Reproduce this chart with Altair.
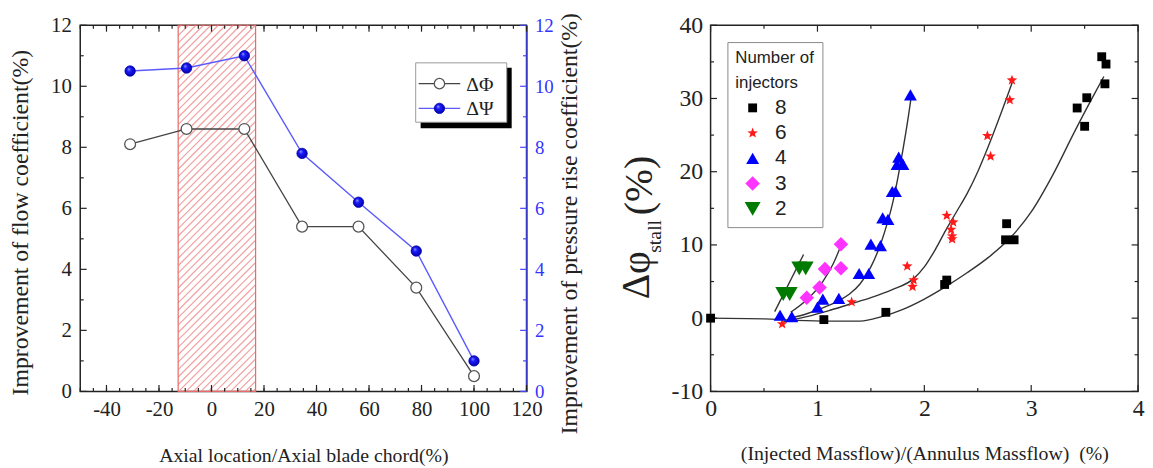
import altair as alt
import pandas as pd

# ---------------- left panel data ----------------
loc = [-31, -9.5, 12.5, 34.5, 56, 78, 100]
d_phi = [8.1, 8.6, 8.6, 5.4, 5.4, 3.4, 0.5]
d_psi = [10.5, 10.6, 11.0, 7.8, 6.2, 4.6, 1.0]
band = [-12.7, 16.8]
left_x_ticks = [-40, -20, 0, 20, 40, 60, 80, 100, 120]
left_y_ticks = [0, 2, 4, 6, 8, 10, 12]

# ---------------- right panel data ----------------
n8_x = [0.0, 1.06, 1.64, 2.19, 2.21, 2.77, 2.76, 2.84, 3.43, 3.52, 3.50, 3.66, 3.70, 3.69]
n8_y = [0.0, -0.2, 0.8, 4.6, 5.2, 12.9, 10.7, 10.7, 28.7, 30.1, 26.2, 35.7, 34.7, 32.0]
n6_x = [0.67, 1.32, 1.84, 1.90, 1.89, 2.21, 2.27, 2.25, 2.26, 2.26, 2.59, 2.62, 2.80, 2.82]
n6_y = [-0.8, 2.2, 7.1, 5.2, 4.3, 14.0, 13.1, 12.1, 11.2, 10.8, 24.9, 22.1, 29.8, 32.5]
n4_x = [0.65, 0.76, 1.00, 1.05, 1.20, 1.39, 1.48, 1.50, 1.59, 1.61, 1.66, 1.70, 1.73, 1.745, 1.76, 1.80, 1.87]
n4_y = [0.4, 0.2, 1.5, 2.6, 2.7, 6.1, 6.1, 10.1, 9.9, 13.7, 13.5, 17.3, 17.3, 21.0, 22.0, 21.0, 30.5]
n3_x = [0.90, 1.02, 1.07, 1.22, 1.22]
n3_y = [2.8, 4.2, 6.7, 10.1, 6.8]
n2_x = [0.68, 0.74, 0.83, 0.89]
n2_y = [3.3, 3.3, 6.8, 6.8]

# fitted curves
c8_x = [0, 0.5, 0.8, 1.1, 1.4, 1.6, 1.8, 2.0, 2.2, 2.4, 2.6, 2.8, 3.0, 3.2, 3.4, 3.55, 3.68]
c8_y = [0, -0.1, -0.3, -0.4, -0.4, 0.2, 1.2, 2.6, 4.3, 6.2, 8.3, 10.9, 14.5, 19.5, 25.3, 29.5, 33.0]
c6_x = [0.68, 0.9, 1.1, 1.3, 1.5, 1.7, 1.9, 2.0, 2.1, 2.2, 2.3, 2.4, 2.5, 2.6, 2.7, 2.83]
c6_y = [-0.5, 0.2, 1.0, 1.9, 2.8, 3.9, 5.4, 7.0, 9.3, 12.0, 14.5, 17.0, 20.0, 23.5, 27.3, 32.5]
c4_x = [0.75, 0.9, 1.05, 1.2, 1.3, 1.4, 1.5, 1.6, 1.65, 1.7, 1.75, 1.8, 1.85, 1.88]
c4_y = [0.0, 0.6, 1.4, 2.4, 3.3, 4.7, 7.0, 10.5, 12.8, 15.5, 19.0, 23.0, 27.5, 30.5]
c3_x = [0.75, 0.9, 1.05, 1.15, 1.23]
c3_y = [0.8, 2.5, 5.0, 7.5, 10.3]
c2_x = [0.6, 0.87]
c2_y = [0.9, 8.7]

n_order = ["8", "6", "4", "3", "2"]
right_x_ticks = [0, 1, 2, 3, 4]
right_y_ticks = [-10, 0, 10, 20, 30, 40]

# ---------------- layout / style ----------------
LW, LH = 451, 370
RW, RH = 432, 370
XL = [-50, 120]
SERIF = "Liberation Serif"
SANS = "Liberation Sans"
BLUE = "#3333ff"
STAR = ("M0,-1L0.247,-0.34L0.951,-0.309L0.4,0.13L0.588,0.809L0,0.42"
        "L-0.588,0.809L-0.4,0.13L-0.951,-0.309L-0.247,-0.34Z")
HYPHEN = "datum.value < 0 ? '-' + abs(datum.value) : datum.label"

one = pd.DataFrame({"a": [0]})

xs = alt.Scale(domain=XL, nice=False, zero=False)
ysL = alt.Scale(domain=[0, 12], nice=False, zero=False)
ysR = alt.Scale(domain=[0, 12], nice=False, zero=False)
rxs = alt.Scale(domain=[0, 4], nice=False, zero=False)
rys = alt.Scale(domain=[-10, 40], nice=False, zero=False)

AX_LX = alt.Axis(title="Axial location/Axial blade chord(%)", values=left_x_ticks, format="d",
                 labelExpr=HYPHEN,
                 labelFont=SERIF, labelFontSize=21, labelColor="#222", labelPadding=7,
                 ticks=False, domain=False, grid=False, labelFlush=False,
                 titleFont=SERIF, titleFontSize=20, titleFontWeight="normal", titleColor="#222",
                 titlePadding=27)
AX_LY = alt.Axis(title="Improvement of flow coefficient(%)", values=left_y_ticks, format="d",
                 labelFont=SERIF, labelFontSize=21, labelColor="#222", labelPadding=9,
                 ticks=False, domain=False, grid=False, labelFlush=False,
                 titleFont=SERIF, titleFontSize=24, titleFontWeight="normal", titleColor="#222",
                 titlePadding=18, titleY=199)
AX_RY = alt.Axis(orient="right", title="Improvement of pressure rise coefficient(%)",
                 values=left_y_ticks, format="d",
                 labelFont=SERIF, labelFontSize=19, labelColor=BLUE, labelPadding=8,
                 ticks=False, domain=True, domainColor="#4444ff", domainWidth=1.5, grid=False,
                 labelFlush=False,
                 titleFont=SERIF, titleFontSize=24, titleFontWeight="normal", titleColor="#222",
                 titleAngle=270, titleBaseline="top", titlePadding=4, titleY=200)
AX_X2 = alt.Axis(title="(Injected Massflow)/(Annulus Massflow)\u00a0\u00a0(%)", values=right_x_ticks,
                 format="d", labelFont=SERIF, labelFontSize=24, labelColor="#222", labelPadding=5,
                 ticks=False, domain=False, grid=False, labelFlush=False,
                 titleFont=SERIF, titleFontSize=20, titleFontWeight="normal", titleColor="#222",
                 titlePadding=24)
AX_Y2 = alt.Axis(title=None, values=right_y_ticks, format="d", labelExpr=HYPHEN,
                 labelFont=SERIF, labelFontSize=24, labelColor="#222", labelPadding=8,
                 ticks=False, domain=False, grid=False, labelFlush=False)


def frange(a, b, s):
    out, v = [], a
    while v <= b + 1e-9:
        out.append(round(v, 6))
        v += s
    return out


def xtick_rules(vals, length, scale, axis, H, color="#222"):
    df = pd.DataFrame({"v": vals})
    base = alt.Chart(df).mark_rule(color=color, strokeWidth=1.2)
    b = base.encode(x=alt.X("v:Q", scale=scale, axis=axis), y=alt.value(H), y2=alt.value(H - length))
    t = base.encode(x=alt.X("v:Q", scale=scale, axis=axis), y=alt.value(0), y2=alt.value(length))
    return [b, t]


def ytick_rule(vals, length, scale, axis, xpos, direction, color="#222"):
    df = pd.DataFrame({"v": vals})
    return alt.Chart(df).mark_rule(color=color, strokeWidth=1.2).encode(
        y=alt.Y("v:Q", scale=scale, axis=axis), x=alt.value(xpos), x2=alt.value(xpos + direction * length))


# hatch segments ("/" at 45 degrees in pixel space), clipped to the band
def hatch_df(x0, x1, step=7.5):
    sx = LW / (XL[1] - XL[0])
    sy = LH / 12.0
    a = (x0 - XL[0]) * sx
    b = (x1 - XL[0]) * sx
    rows = []
    c = a + 3.0
    while c < b + LH:
        p1 = max(a, c - LH)
        q1 = c - p1
        p2 = min(b, c)
        q2 = c - p2
        rows.append({"xa": XL[0] + p1 / sx, "ya": 12 - q1 / sy,
                     "xb": XL[0] + p2 / sx, "yb": 12 - q2 / sy})
        c += step
    return pd.DataFrame(rows)


left_df = pd.DataFrame({"loc": loc, "phi": d_phi, "psi": d_psi})

hatch = alt.Chart(hatch_df(band[0], band[1])).mark_rule(color="#f2a0a0", strokeWidth=1.2).encode(
    x=alt.X("xa:Q", scale=xs, axis=AX_LX), x2="xb:Q",
    y=alt.Y("ya:Q", scale=ysL, axis=AX_LY), y2="yb:Q")

band_df = pd.DataFrame({"x0": [band[0]], "x1": [band[1]], "y0": [0], "y1": [12]})
band_rect = alt.Chart(band_df).mark_rect(fill=None, fillOpacity=0, stroke="#e86a6a", strokeWidth=1.2).encode(
    x=alt.X("x0:Q", scale=xs, axis=AX_LX), x2="x1:Q",
    y=alt.Y("y0:Q", scale=ysL, axis=AX_LY), y2="y1:Q")

base_phi = alt.Chart(left_df).encode(
    x=alt.X("loc:Q", scale=xs, axis=AX_LX),
    y=alt.Y("phi:Q", scale=ysL, axis=AX_LY))
line_phi = base_phi.mark_line(color="#444", strokeWidth=1.3)
pts_phi = base_phi.mark_point(shape="circle", filled=True, fill="white", stroke="#555",
                              strokeWidth=1.3, size=120, opacity=1)

ball = alt.RadialGradient(gradient="radial", x1=0.35, y1=0.3, r1=0.0, x2=0.5, y2=0.5, r2=0.55,
                          stops=[alt.GradientStop(offset=0, color="#a0a0ff"),
                                 alt.GradientStop(offset=0.35, color="#1a1aff"),
                                 alt.GradientStop(offset=1, color="#0000a0")])

base_psi = alt.Chart(left_df).encode(
    x=alt.X("loc:Q", scale=xs, axis=AX_LX),
    y=alt.Y("psi:Q", scale=ysR, axis=AX_RY))
line_psi = base_psi.mark_line(color="#5a5aff", strokeWidth=1.4)
pts_psi = base_psi.mark_point(shape="circle", filled=True, fill=ball, stroke="#0000b0",
                              strokeWidth=0.8, size=110, opacity=1)

# left chart tick marks (inward)
lt = []
lt += xtick_rules(frange(-50, 120, 5), 3.5, xs, AX_LX, LH)
lt += xtick_rules(left_x_ticks, 6.5, xs, AX_LX, LH)
lt.append(ytick_rule(frange(1, 11, 2), 3.5, ysL, AX_LY, 0, 1))
lt.append(ytick_rule(left_y_ticks, 6.5, ysL, AX_LY, 0, 1))
rt = [ytick_rule(frange(1, 11, 2), 3.5, ysR, AX_RY, LW, -1, "#4444ff"),
      ytick_rule(left_y_ticks, 6.5, ysR, AX_RY, LW, -1, "#4444ff")]

# left legend (drawn box with shadow)
leg_shadow = alt.Chart(one).mark_rect(fill="black").encode(
    x=alt.value(344), x2=alt.value(436), y=alt.value(43), y2=alt.value(104))
leg_box = alt.Chart(one).mark_rect(fill="white", stroke="#9a9a9a", strokeWidth=1).encode(
    x=alt.value(339), x2=alt.value(431), y=alt.value(38), y2=alt.value(98))
leg_l1 = alt.Chart(one).mark_rule(color="#444", strokeWidth=1.3).encode(
    x=alt.value(342), x2=alt.value(384), y=alt.value(59))
leg_p1 = alt.Chart(one).mark_point(shape="circle", filled=True, fill="white", stroke="#555",
                                   strokeWidth=1.3, size=110, opacity=1).encode(
    x=alt.value(363), y=alt.value(59))
leg_t1 = alt.Chart(one).mark_text(text="ΔΦ", font=SERIF, fontSize=20, align="left",
                                  baseline="middle", color="#222").encode(
    x=alt.value(390), y=alt.value(60))
leg_l2 = alt.Chart(one).mark_rule(color="#5a5aff", strokeWidth=1.3).encode(
    x=alt.value(342), x2=alt.value(384), y=alt.value(84))
leg_p2 = alt.Chart(one).mark_point(shape="circle", filled=True, fill=ball, stroke="#0000b0",
                                   strokeWidth=0.8, size=110, opacity=1).encode(
    x=alt.value(363), y=alt.value(84))
leg_t2 = alt.Chart(one).mark_text(text="ΔΨ", font=SERIF, fontSize=20, align="left",
                                  baseline="middle", color="#222").encode(
    x=alt.value(390), y=alt.value(85))

layer_a = alt.layer(hatch, band_rect, *lt, line_phi, pts_phi,
                    leg_shadow, leg_box, leg_l1, leg_p1, leg_t1, leg_l2, leg_p2, leg_t2)
layer_b = alt.layer(line_psi, pts_psi, *rt)
left = alt.layer(layer_a, layer_b).resolve_scale(y="independent").properties(width=LW, height=LH)

# ---------------- right panel ----------------
rows = []
for n, xx, yy in [("8", n8_x, n8_y), ("6", n6_x, n6_y), ("4", n4_x, n4_y),
                  ("3", n3_x, n3_y), ("2", n2_x, n2_y)]:
    for a, b in zip(xx, yy):
        rows.append({"x": a, "y": b, "n": n})
rdf = pd.DataFrame(rows)

crow = []
for c, xx, yy in [("8", c8_x, c8_y), ("6", c6_x, c6_y), ("4", c4_x, c4_y),
                  ("3", c3_x, c3_y), ("2", c2_x, c2_y)]:
    for a, b in zip(xx, yy):
        crow.append({"x": a, "y": b, "c": c})
cdf = pd.DataFrame(crow)

leg = alt.Legend(title=["Number of", "injectors"], orient="none", legendX=17, legendY=17,
                 strokeColor="#8a8a8a", fillColor="white", padding=8,
                 titleFont=SANS, titleFontSize=17, titleFontWeight="normal", titleColor="#222",
                 titleLineHeight=25, titlePadding=6,
                 labelFont=SANS, labelFontSize=21, labelColor="#222",
                 symbolSize=80, symbolOffset=7, labelOffset=12, rowPadding=3.5,
                 symbolStrokeWidth=0)

curves = alt.Chart(cdf).mark_line(color="#333", strokeWidth=1.4, interpolate="monotone").encode(
    x=alt.X("x:Q", scale=rxs, axis=AX_X2), y=alt.Y("y:Q", scale=rys, axis=AX_Y2), detail="c:N")

pts = alt.Chart(rdf).mark_point(filled=True, opacity=1).encode(
    x=alt.X("x:Q", scale=rxs, axis=AX_X2),
    y=alt.Y("y:Q", scale=rys, axis=AX_Y2),
    color=alt.Color("n:N", scale=alt.Scale(domain=n_order,
                    range=["#000000", "#ff1a1a", "#0000ff", "#ff33ff", "#007a00"]), legend=leg),
    shape=alt.Shape("n:N", scale=alt.Scale(domain=n_order,
                    range=["square", STAR, "triangle-up", "diamond", "triangle-down"]), legend=leg),
    size=alt.Size("n:N", scale=alt.Scale(domain=n_order, range=[80, 260, 140, 120, 140]), legend=None),
)

rtk = []
rtk += xtick_rules(frange(0.5, 3.5, 1), 3.5, rxs, AX_X2, RH)
rtk += xtick_rules(right_x_ticks, 6.5, rxs, AX_X2, RH)
rtk.append(ytick_rule(frange(-5, 35, 10), 3.5, rys, AX_Y2, 0, 1))
rtk.append(ytick_rule(right_y_ticks, 6.5, rys, AX_Y2, 0, 1))
rtk.append(ytick_rule(frange(-5, 35, 10), 3.5, rys, AX_Y2, RW, -1))
rtk.append(ytick_rule(right_y_ticks, 6.5, rys, AX_Y2, RW, -1))

t_main = alt.Chart(one).mark_text(text="Δφ", font=SERIF, fontSize=40, angle=270, align="left",
                                  baseline="middle", color="#222").encode(x=alt.value(-74), y=alt.value(277))
t_sub = alt.Chart(one).mark_text(text="stall", font=SERIF, fontSize=20, angle=270, align="left",
                                 baseline="middle", color="#222").encode(x=alt.value(-56), y=alt.value(230))
t_pct = alt.Chart(one).mark_text(text="(%)", font=SERIF, fontSize=40, angle=270, align="left",
                                 baseline="middle", color="#222").encode(x=alt.value(-71), y=alt.value(192))

right = alt.layer(curves, *rtk, pts, t_main, t_sub, t_pct).properties(width=RW, height=RH)

chart = alt.hconcat(left, right, spacing=186, bounds="flush").resolve_scale(
    color="independent", shape="independent", size="independent"
).resolve_legend(
    color="independent", shape="independent", size="independent"
).properties(
    padding={"left": 0, "top": 1, "right": 0, "bottom": 0}
).configure_view(stroke="#222", strokeWidth=1.5).configure_axis(grid=False)

chart.save("out.html", embed_options={"renderer": "svg", "actions": False})
